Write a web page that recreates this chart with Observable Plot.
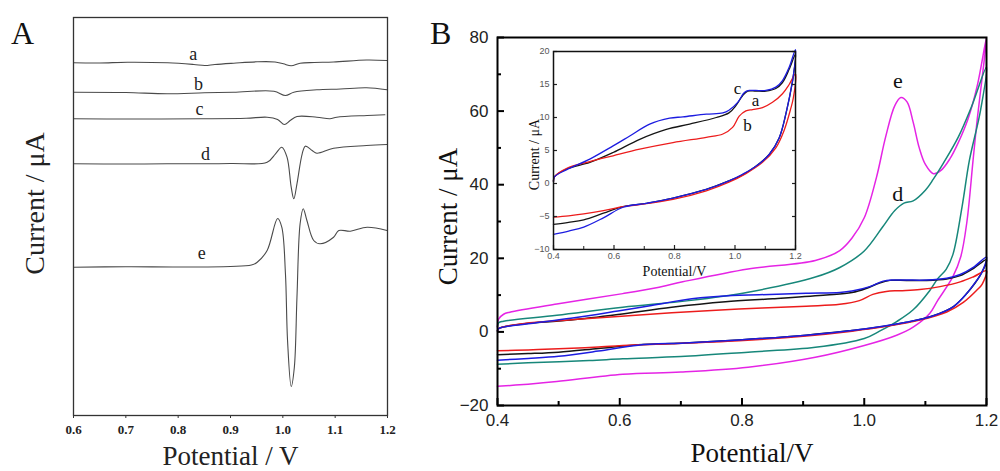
<!DOCTYPE html>
<html>
<head>
<meta charset="utf-8">
<script src="https://cdn.jsdelivr.net/npm/d3@7"></script>
<script src="https://cdn.jsdelivr.net/npm/@observablehq/plot@0.6"></script>
<style>
  body { margin: 0; background: #fff; }
  #wrap { position: relative; width: 1000px; height: 471px; overflow: hidden; background: #fff; }
  .abs { position: absolute; }
  .panel { position: absolute; font-family: 'Liberation Serif', 'Times New Roman', serif; font-size: 32px; color: #111; line-height: 1; }
</style>
</head>
<body>
<div id="wrap"></div>
<script>
// ---------------- Panel A : DPV-like curves (arbitrary offset units) ----------------
const potA_a = [0.6, 0.65, 0.703, 0.78, 0.83, 0.851, 0.87, 0.906, 0.951, 0.985, 1.001, 1.016, 1.033, 1.06, 1.097, 1.16, 1.199];
const curA_a = [352.7, 352.5, 353.3, 352.7, 351, 350, 351, 352.3, 353.7, 353.5, 351.7, 349.7, 352.3, 353, 353.5, 355.5, 355];
const potA_b = [0.6, 0.7, 0.779, 0.85, 0.906, 0.983, 1.005, 1.021, 1.065, 1.11, 1.16, 1.199];
const curA_b = [323.3, 323, 321.7, 322.7, 323.3, 324.3, 320, 323.3, 325.7, 326.5, 327.7, 325.7];
const potA_c = [0.6, 0.7, 0.843, 0.93, 0.97, 0.99, 1.003, 1.014, 1.027, 1.065, 1.09, 1.103, 1.161, 1.195];
const curA_c = [296.7, 296.5, 296.7, 297.2, 298.3, 296, 291, 295, 299, 298.3, 296.7, 298.3, 300, 300.7];
const potA_d = [0.6, 0.7, 0.779, 0.9, 0.97, 0.986, 0.998, 1.008, 1.016, 1.021, 1.027, 1.037, 1.043, 1.056, 1.065, 1.097, 1.16, 1.199];
const curA_d = [251.7, 251.5, 251.7, 252, 253.3, 261.7, 268.3, 258.3, 228.3, 216.7, 231.7, 261.7, 269.3, 265, 262.3, 267.3, 270, 271];
const potA_e = [0.6, 0.7, 0.8, 0.9, 0.94, 0.951, 0.97, 0.99, 0.998, 1.005, 1.009, 1.016, 1.022, 1.027, 1.033, 1.039, 1.046, 1.059, 1.071, 1.097, 1.107, 1.129, 1.161, 1.199];
const curA_e = [148.3, 148.8, 148.5, 149, 150.5, 153.3, 165, 197, 188.3, 141.7, 75, 29, 48.3, 118.3, 191.7, 206.7, 195, 175, 171.7, 178.3, 185, 184.3, 188.3, 185];
const labelsA = ["a", "b", "c", "d", "e"];
const labelPotA = [0.829, 0.839, 0.841, 0.852, 0.845];
const labelCurA = [361, 331, 306, 261, 162];
const ticksXA = [0.6, 0.7, 0.8, 0.9, 1.0, 1.1, 1.2];

// ---------------- Panel B : cyclic voltammograms (µA) ----------------
const potB_a = [0.4, 0.403, 0.444, 0.52, 0.597, 0.685, 0.773, 0.85, 0.938, 0.98, 1.003, 1.025, 1.042, 1.069, 1.102, 1.135, 1.157, 1.179, 1.2,
                1.19, 1.168, 1.146, 1.113, 1.069, 1.025, 0.98, 0.905, 0.795, 0.707, 0.63, 0.565, 0.5, 0.45, 0.4];
const curB_a = [0.3, 1.0, 2.2, 3.2, 4.7, 6.7, 8.2, 9.0, 10.0, 10.7, 11.8, 13.3, 14.0, 14.0, 14.0, 14.4, 15.3, 17.3, 19.6,
                15.5, 10.5, 6.9, 4.4, 2.6, 1.3, 0.4, -0.9, -2.2, -3.0, -3.5, -4.5, -5.5, -5.9, -6.2];
const potB_b = [0.4, 0.403, 0.444, 0.52, 0.597, 0.685, 0.795, 0.905, 0.96, 0.992, 1.014, 1.036, 1.058, 1.091, 1.124, 1.157, 1.179, 1.2,
                1.193, 1.184, 1.162, 1.135, 1.091, 1.036, 0.98, 0.905, 0.795, 0.685, 0.63, 0.565, 0.5, 0.45, 0.4];
const curB_b = [0.3, 1.0, 2.3, 3.3, 4.2, 5.2, 6.2, 7.0, 7.5, 8.5, 10.2, 11.0, 11.2, 11.5, 12.3, 13.6, 15.0, 16.6,
                13.0, 11.3, 8.0, 5.4, 3.2, 1.5, 0.2, -1.1, -2.4, -3.2, -3.5, -4.1, -4.6, -4.9, -5.1];
const potB_c = [0.4, 0.403, 0.444, 0.52, 0.597, 0.652, 0.718, 0.784, 0.828, 0.905, 0.96, 0.98, 1.009, 1.031, 1.047, 1.069, 1.102, 1.135, 1.157, 1.179, 1.2,
                1.192, 1.184, 1.168, 1.146, 1.113, 1.069, 1.025, 0.98, 0.905, 0.795, 0.707, 0.63, 0.565, 0.5, 0.45, 0.4];
const curB_c = [0.3, 1.0, 2.1, 3.7, 5.7, 7.2, 9.0, 9.9, 10.1, 10.5, 10.7, 11.1, 12.3, 13.8, 14.1, 14.1, 14.1, 14.6, 15.6, 17.6, 20.3,
                16.0, 14.0, 10.5, 6.9, 4.4, 2.6, 1.4, 0.4, -0.9, -2.2, -3.0, -3.6, -5.2, -6.6, -7.2, -7.7];
const potB_d = [0.4, 0.402, 0.41, 0.497, 0.605, 0.713, 0.81, 0.92, 0.96, 1.0, 1.03, 1.05, 1.065, 1.08, 1.1, 1.113, 1.13, 1.154, 1.175, 1.2,
                1.19, 1.172, 1.16, 1.145, 1.134, 1.12, 1.107, 1.08, 1.053, 1.025, 1.0, 0.92, 0.81, 0.7, 0.605, 0.55, 0.45, 0.4];
const curB_d = [1.5, 2.5, 2.9, 4.5, 6.7, 8.5, 10.8, 14.9, 17.5, 22.0, 28.5, 33.0, 35.0, 35.6, 38.5, 41.5, 46.0, 53.0, 61.0, 72.0,
                60.0, 46.6, 34.0, 21.0, 17.0, 14.4, 11.2, 6.0, 2.8, 0.2, -1.8, -4.2, -5.5, -6.7, -7.3, -7.8, -8.4, -8.8];
const potB_e = [0.4, 0.402, 0.41, 0.42, 0.497, 0.605, 0.66, 0.703, 0.81, 0.92, 0.96, 0.98, 1.0, 1.02, 1.035, 1.05, 1.06, 1.07, 1.08, 1.09, 1.1, 1.113, 1.125, 1.14, 1.154, 1.17, 1.185, 1.2,
                1.195, 1.185, 1.178, 1.168, 1.158, 1.145, 1.12, 1.107, 1.08, 1.053, 1.0, 0.92, 0.81, 0.7, 0.605, 0.497, 0.45, 0.4];
const curB_e = [1.3, 3.5, 4.8, 5.35, 7.6, 10.4, 12.0, 13.6, 17.1, 19.4, 22.1, 25.5, 31.0, 42.0, 53.0, 61.5, 63.7, 62.5, 57.0, 50.0, 45.5, 43.0, 43.8, 47.0, 51.5, 58.0, 67.0, 80.0,
                72.0, 58.0, 46.6, 30.0, 20.5, 15.0, 8.5, 5.0, 1.3, -0.9, -3.7, -6.9, -9.6, -10.9, -11.5, -13.5, -14.2, -14.8];
const labelsB = ["e", "d"];
const labelPotB = [1.055, 1.055];
const labelCurB = [68.3, 37.6];
const labelsInset = ["c", "a", "b"];
const labelPotInset = [1.008, 1.068, 1.041];
const labelCurInset = [14.4, 12.6, 8.8];
const ticksXB = [0.4, 0.6, 0.8, 1.0, 1.2];
const minorXB = [0.5, 0.7, 0.9, 1.1];
const ticksYB = [-20, 0, 20, 40, 60, 80];
const minorYB = [-10, 10, 30, 50, 70];
const ticksYInset = [-10, -5, 0, 5, 10, 15, 20];
const minorXInset = [0.5, 0.7, 0.9, 1.1];

const colors = {a: "#151515", b: "#ec1c1c", c: "#1c1ce0", d: "#17877a", e: "#e524e5"};

const SERIF = "'Liberation Serif','Times New Roman',serif";
const SANS = "'Liberation Sans',Arial,Helvetica,sans-serif";

const rows = (pot, cur) => pot.map((p, i) => ({pot: p, cur: cur[i]}));
const labelRows = (names, pot, cur) => names.map((n, i) => ({name: n, pot: pot[i], cur: cur[i]}));

const wrap = document.getElementById("wrap");
function place(node, left, top) {
  node.classList.add("abs");
  node.style.left = left + "px";
  node.style.top = top + "px";
  wrap.appendChild(node);
}

// ---------- Panel A ----------
const curvesA = [[potA_a, curA_a], [potA_b, curA_b], [potA_c, curA_c], [potA_d, curA_d], [potA_e, curA_e]];
const plotA = Plot.plot({
  width: 400, height: 471,
  marginLeft: 73, marginRight: 13, marginTop: 17, marginBottom: 56,
  style: {background: "transparent", fontFamily: SERIF, overflow: "visible"},
  x: {domain: [0.6, 1.2]},
  y: {domain: [0, 398], axis: null},
  marks: [
    ...curvesA.map(([p, c]) => Plot.line(rows(p, c), {x: "pot", y: "cur", curve: "catmull-rom", stroke: "#4a4a4a", strokeWidth: 1.1})),
    Plot.frame({stroke: "#333", strokeWidth: 1.3}),
    Plot.axisX(ticksXA, {tickFormat: d3.format(".1f"), tickSize: 3, tickPadding: 6, fontSize: 13, fontWeight: "bold", fontFamily: SERIF, fill: "#222", stroke: "#333", label: null}),
    Plot.text(labelRows(labelsA, labelPotA, labelCurA), {x: "pot", y: "cur", text: "name", fontSize: 18, fontFamily: SERIF, fill: "#222"}),
    Plot.text(["Potential / V"], {frameAnchor: "bottom", textAnchor: "middle", lineAnchor: "middle", dy: 41, fontSize: 27, fontFamily: SERIF, fill: "#222"}),
    Plot.text(["Current / μA"], {frameAnchor: "left", textAnchor: "middle", lineAnchor: "middle", rotate: -90, dx: -38, dy: -13, fontSize: 28, fontFamily: SERIF, fill: "#222"})
  ]
});
place(plotA, 0, 0);

// ---------- Panel B ----------
const curvesB = [["e", potB_e, curB_e], ["d", potB_d, curB_d], ["a", potB_a, curB_a], ["b", potB_b, curB_b], ["c", potB_c, curB_c]];
const plotB = Plot.plot({
  width: 600, height: 471,
  marginLeft: 97, marginRight: 14, marginTop: 37, marginBottom: 66,
  style: {background: "transparent", fontFamily: SANS, overflow: "visible"},
  x: {domain: [0.4, 1.2]},
  y: {domain: [-20, 80]},
  marks: [
    ...curvesB.map(([k, p, c]) => Plot.line(rows(p, c), {x: "pot", y: "cur", curve: "catmull-rom", stroke: colors[k], strokeWidth: 1.5})),
    Plot.axisY(ticksYB, {tickSize: 0, tickPadding: 9, fontSize: 17, fontFamily: SANS, fill: "#222", label: null}),
    Plot.axisY(ticksYB, {tickSize: 7, dx: 7, strokeWidth: 2, stroke: "#000", tickFormat: () => "", label: null}),
    Plot.axisY(minorYB, {tickSize: 4, dx: 4, strokeWidth: 2, stroke: "#000", tickFormat: () => "", label: null}),
    Plot.axisX(ticksXB, {tickSize: 0, tickPadding: 8, fontSize: 17, fontFamily: SANS, fill: "#222", tickFormat: d3.format(".1f"), label: null}),
    Plot.axisX(ticksXB, {tickSize: 7, dy: -7, strokeWidth: 2, stroke: "#000", tickFormat: () => "", label: null}),
    Plot.axisX(minorXB, {tickSize: 4, dy: -4, strokeWidth: 2, stroke: "#000", tickFormat: () => "", label: null}),
    Plot.frame({stroke: "#000", strokeWidth: 2}),
    Plot.text(labelRows(labelsB, labelPotB, labelCurB), {x: "pot", y: "cur", text: "name", fontSize: 22, fontFamily: SERIF, fill: "#111"}),
    Plot.text(["Potential/V"], {frameAnchor: "bottom", textAnchor: "middle", lineAnchor: "middle", dy: 48, dx: 10, fontSize: 27, fontFamily: SERIF, fill: "#111"}),
    Plot.text(["Current / μA"], {frameAnchor: "left", textAnchor: "middle", lineAnchor: "middle", rotate: -90, dx: -49, dy: -5, fontSize: 27, fontFamily: SERIF, fill: "#111"})
  ]
});
place(plotB, 400, 0);

// ---------- Inset ----------
const curvesInset = [["a", potB_a, curB_a], ["b", potB_b, curB_b], ["c", potB_c, curB_c]];
const plotInset = Plot.plot({
  width: 280, height: 240,
  marginLeft: 33, marginRight: 5, marginTop: 6, marginBottom: 36,
  style: {background: "transparent", fontFamily: SANS, overflow: "visible"},
  x: {domain: [0.4, 1.2]},
  y: {domain: [-10, 20]},
  marks: [
    Plot.frame({fill: "white", stroke: "none"}),
    ...curvesInset.map(([k, p, c]) => Plot.line(rows(p, c), {x: "pot", y: "cur", curve: "catmull-rom", stroke: colors[k], strokeWidth: 1.3})),
    Plot.axisY(ticksYInset, {tickSize: 0, tickPadding: 4, fontSize: 9, fontFamily: SANS, fill: "#555", label: null}),
    Plot.axisY(ticksYInset, {tickSize: 4, dx: 4, strokeWidth: 1.2, stroke: "#222", tickFormat: () => "", label: null}),
    Plot.axisY(ticksYInset, {anchor: "right", tickSize: 4, dx: -4, strokeWidth: 1.2, stroke: "#222", tickFormat: () => "", label: null}),
    Plot.axisX(ticksXB, {tickSize: 0, tickPadding: 3, fontSize: 9, fontFamily: SANS, fill: "#555", tickFormat: d3.format(".1f"), label: null}),
    Plot.axisX(ticksXB, {tickSize: 4, dy: -4, strokeWidth: 1.2, stroke: "#222", tickFormat: () => "", label: null}),
    Plot.axisX(minorXInset, {tickSize: 3, dy: -3, strokeWidth: 1, stroke: "#222", tickFormat: () => "", label: null}),
    Plot.frame({stroke: "#111", strokeWidth: 1.5}),
    Plot.text(labelRows(labelsInset, labelPotInset, labelCurInset), {x: "pot", y: "cur", text: "name", fontSize: 17, fontFamily: SERIF, fill: "#111"}),
    Plot.text(["Potential/V"], {frameAnchor: "bottom", textAnchor: "middle", lineAnchor: "middle", dy: 22, fontSize: 14, fontFamily: SERIF, fill: "#111"}),
    Plot.text(["Current / μA"], {frameAnchor: "left", textAnchor: "middle", lineAnchor: "middle", rotate: -90, dx: -19, dy: 4, fontSize: 14, fontFamily: SERIF, fill: "#111"})
  ]
});
place(plotInset, 520, 45);

// ---------- Panel letters ----------
const letterA = document.createElement("div");
letterA.className = "panel"; letterA.textContent = "A";
letterA.style.left = "11px"; letterA.style.top = "17px";
wrap.appendChild(letterA);
const letterB = document.createElement("div");
letterB.className = "panel"; letterB.textContent = "B";
letterB.style.left = "430px"; letterB.style.top = "17px";
wrap.appendChild(letterB);
</script>
</body>
</html>
